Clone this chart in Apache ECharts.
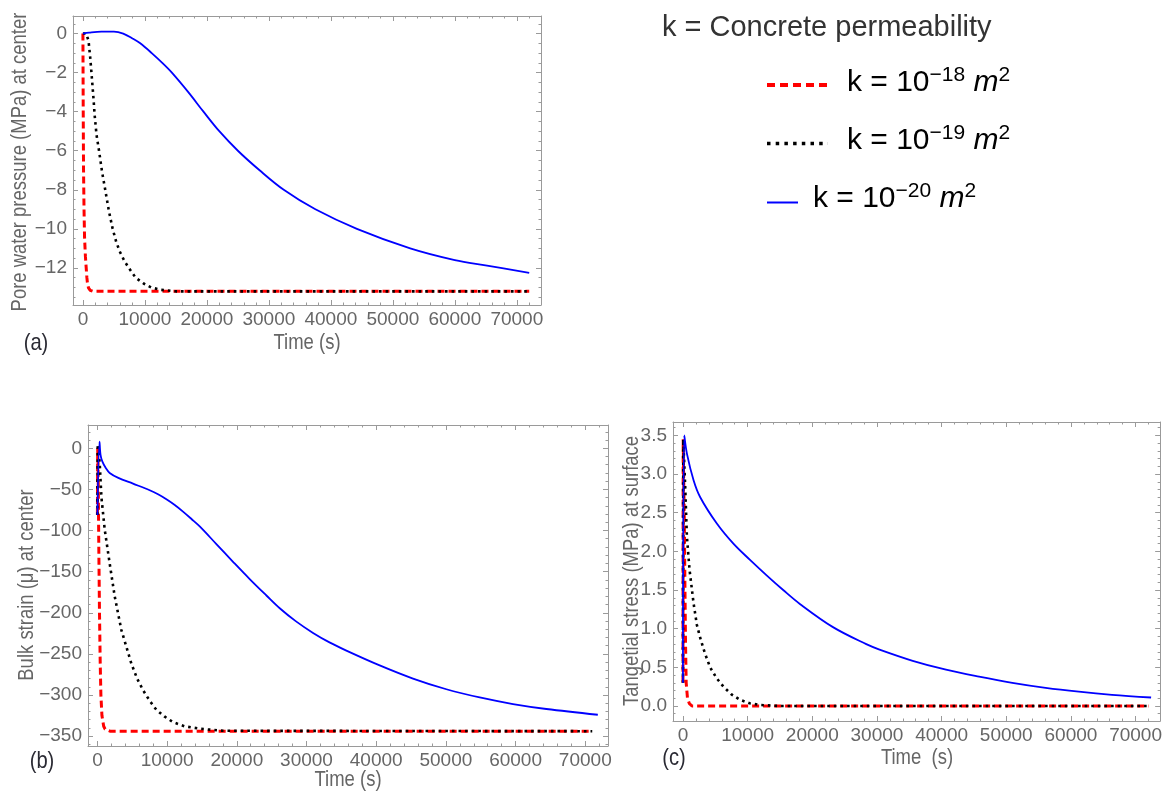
<!DOCTYPE html>
<html><head><meta charset="utf-8">
<script src="https://cdn.jsdelivr.net/npm/echarts@6/dist/echarts.min.js"></script>
<style>html,body{margin:0;padding:0;background:#fff}#c{width:1165px;height:799px}</style>
</head><body><div id="c"></div>
<script>
// ---------- tick labels ----------
const X_MAJOR = [0, 10000, 20000, 30000, 40000, 50000, 60000, 70000];
const A_Y_MAJOR = [0, -2, -4, -6, -8, -10, -12];
const B_Y_MAJOR = [0, -50, -100, -150, -200, -250, -300, -350];
const C_Y_MAJOR = [0, 0.5, 1, 1.5, 2, 2.5, 3, 3.5];

// ---------- (a) pore water pressure at center (MPa) ----------
const aRedT = [0, 50, 100, 180, 260, 400, 530, 640, 740, 900, 1180, 1600, 72000];
const aRedV = [0, -4, -7, -9, -10.4, -11.4, -12, -12.5, -12.8, -13.02, -13.15, -13.2, -13.2];
const aBlackT = [0, 500, 900, 1200, 1450, 1700, 1900, 2200, 2600, 3100, 3600, 4200, 4800, 5400, 6000, 6700, 7400, 8500, 9800, 11000, 12500, 15000, 72000];
const aBlackV = [0, 0, -0.35, -1.3, -2.3, -3.3, -4.2, -5.2, -6, -7.1, -8, -9.1, -10, -10.7, -11.2, -11.65, -12, -12.5, -12.8, -13.0, -13.12, -13.2, -13.2];
const aBlueT = [0, 1000, 3000, 5000, 6500, 8000, 9250, 11100, 12800, 14350, 17000, 19450, 22000, 25000, 28500, 32400, 37500, 44200, 52800, 60000, 65200, 72000];
const aBlueV = [0, 0.05, 0.1, 0.1, 0.0, -0.25, -0.5, -1.0, -1.5, -2.0, -3.0, -4.0, -5.0, -6.0, -7.0, -8.0, -9.0, -10.0, -11.0, -11.6, -11.88, -12.25];

// ---------- (b) bulk strain at center (micro) ----------
const bRedT = [0, 40, 100, 200, 300, 400, 500, 650, 900, 1100, 1300, 1800, 71000];
const bRedV = [-81, 0, -25, -120, -200, -260, -300, -325, -338, -341.5, -343, -344, -344];
const bBlackT = [0, 40, 330, 570, 1050, 1760, 2480, 3440, 4880, 5700, 6540, 7500, 8460, 9600, 10850, 12500, 14700, 18000, 71000];
const bBlackV = [-81, 5, -18, -59, -99, -140, -180, -221, -262, -280, -294, -307, -318, -326, -333, -338, -341, -343.5, -344];
const bBlueT = [0, 300, 450, 700, 1200, 1760, 3000, 5110, 7500, 8700, 9900, 11100, 12280, 13500, 14680, 17070, 19460, 21850, 24250, 26160, 28500, 30940, 33300, 35720, 40500, 45280, 50070, 54850, 59630, 64420, 71800];
const bBlueV = [-81, 8, -8, -16, -24, -30, -36, -43, -51, -56, -62, -69, -77, -86, -95, -116.5, -138, -159, -179, -194.5, -210.5, -224.5, -236, -246, -264, -280, -293, -303, -311, -317, -324];

// ---------- (c) tangential stress at surface (MPa) ----------
const cRedT = [0, 40, 100, 200, 300, 400, 500, 700, 1000, 1400, 2000, 72000];
const cRedV = [0.3, 3.45, 3.0, 2.5, 1.6, 0.8, 0.3, 0.1, 0.03, 0.0, 0, 0];
const cBlackT = [0, 50, 350, 610, 1020, 1640, 2150, 2670, 3400, 4200, 5200, 6260, 7500, 8830, 10300, 11900, 15000, 72000];
const cBlackV = [0.3, 3.45, 2.83, 2.19, 1.76, 1.33, 1.05, 0.88, 0.68, 0.5, 0.36, 0.25, 0.15, 0.08, 0.035, 0.013, 0, 0];
const cBlueT = [0, 200, 620, 1640, 2670, 5240, 7800, 10370, 12940, 15500, 18080, 23200, 28350, 30400, 35530, 40680, 45800, 50940, 56090, 61220, 66350, 72400];
const cBlueV = [0.3, 3.5, 3.26, 2.92, 2.7, 2.36, 2.1, 1.89, 1.69, 1.5, 1.32, 1.02, 0.8, 0.73, 0.585, 0.47, 0.38, 0.3, 0.235, 0.185, 0.145, 0.11];

// ---------- helpers ----------
function range(a, b, s) { const r = []; for (let v = a; v <= b + 1e-9; v += s) r.push(Math.round(v * 1000) / 1000); return r; }
const X_MINOR = range(0, 72000, 2000);
const A_Y_MINOR = range(-13.5, 0.5, 0.5);
const B_Y_MINOR = range(-360, 20, 10);
const C_Y_MINOR = range(-0.1, 3.6, 0.1);
function pairs(t, v) { return t.map((x, i) => [x, v[i]]); }

const FR = "'Liberation Sans',Arial,Helvetica,sans-serif";
const FRAME = '#9a9a9a';
const LABEL = '#666666';
const minusFmt = v => (v < 0 ? '\u2212' + Math.abs(v) : String(v));

const panels = [
  { grid: { left: 73, top: 16, width: 468, height: 289 }, x: [-1600, 73900], y: [-13.9, 0.9],
    yMaj: A_Y_MAJOR, yMin: A_Y_MINOR, fmt: minusFmt,
    series: [[aRedT, aRedV], [aBlackT, aBlackV], [aBlueT, aBlueV]] },
  { grid: { left: 88, top: 425, width: 520, height: 321 }, x: [-1350, 73260], y: [-362, 28.3],
    yMaj: B_Y_MAJOR, yMin: B_Y_MINOR, fmt: minusFmt,
    series: [[bRedT, bRedV], [bBlackT, bBlackV], [bBlueT, bBlueV]] },
  { grid: { left: 673, top: 422, width: 489, height: 299 }, x: [-1540, 73800], y: [-0.194, 3.673],
    yMaj: C_Y_MAJOR, yMin: C_Y_MINOR, fmt: v => v.toFixed(1),
    series: [[cRedT, cRedV], [cBlackT, cBlackV], [cBlueT, cBlueV]] }
];

const grids = [], xAxes = [], yAxes = [], series = [];
const styles = [
  { color: '#ff0000', width: 3, type: [7, 4], z: 2, smooth: false },
  { color: '#000000', width: 2.6, type: [2.6, 4], z: 3, smooth: false },
  { color: '#0000ff', width: 1.8, type: 'solid', z: 4, smooth: 0.35 }
];
panels.forEach((p, gi) => {
  grids.push(Object.assign({ containLabel: false }, p.grid));
  const xb = { type: 'value', gridIndex: gi, min: p.x[0], max: p.x[1], splitLine: { show: false } };
  const yb = { type: 'value', gridIndex: gi, min: p.y[0], max: p.y[1], splitLine: { show: false } };
  const line = { show: true, onZero: false, lineStyle: { color: FRAME, width: 1 } };
  const noLine = { show: false, onZero: false };
  const majT = vals => ({ show: true, inside: true, length: 5, customValues: vals, lineStyle: { color: FRAME, width: 1 } });
  const minT = vals => ({ show: true, inside: true, length: 2.5, customValues: vals, lineStyle: { color: FRAME, width: 1 } });
  xAxes.push(
    Object.assign({}, xb, { position: 'bottom', axisLine: line, axisTick: majT(X_MAJOR),
      axisLabel: { show: true, customValues: X_MAJOR, margin: 5, color: LABEL, fontSize: 19, fontFamily: FR,
        showMinLabel: true, showMaxLabel: true, hideOverlap: false, formatter: v => String(v) } }),
    Object.assign({}, xb, { position: 'bottom', axisLine: noLine, axisTick: minT(X_MINOR), axisLabel: { show: false } }),
    Object.assign({}, xb, { position: 'top', axisLine: line, axisTick: majT(X_MAJOR), axisLabel: { show: false } }),
    Object.assign({}, xb, { position: 'top', axisLine: noLine, axisTick: minT(X_MINOR), axisLabel: { show: false } })
  );
  yAxes.push(
    Object.assign({}, yb, { position: 'left', axisLine: line, axisTick: majT(p.yMaj),
      axisLabel: { show: true, customValues: p.yMaj, margin: 6, color: LABEL, fontSize: 19, fontFamily: FR,
        showMinLabel: true, showMaxLabel: true, formatter: p.fmt } }),
    Object.assign({}, yb, { position: 'left', axisLine: noLine, axisTick: minT(p.yMin), axisLabel: { show: false } }),
    Object.assign({}, yb, { position: 'right', axisLine: line, axisTick: majT(p.yMaj), axisLabel: { show: false } }),
    Object.assign({}, yb, { position: 'right', axisLine: noLine, axisTick: minT(p.yMin), axisLabel: { show: false } })
  );
  p.series.forEach((s, si) => {
    const st = styles[si];
    series.push({
      type: 'line', xAxisIndex: gi * 4, yAxisIndex: gi * 4, data: pairs(s[0], s[1]),
      showSymbol: false, symbol: 'none', smooth: st.smooth, z: st.z,
      lineStyle: { color: st.color, width: st.width, type: st.type, cap: 'butt' }, clip: true
    });
  });
});

// narrow-looking text: regular face compressed horizontally
const txt = (x, y, text, opt) => ({ type: 'text', x: x, y: y, rotation: (opt && opt.rot) || 0,
  scaleX: (opt && opt.sx) || 0.84,
  style: Object.assign({ text: text, fill: LABEL, font: '22px ' + FR, align: 'center', verticalAlign: 'middle' }, (opt && opt.style) || {}) });

const legendRich = {
  a: { fontSize: 30, fontFamily: FR, fill: '#000', lineHeight: 36 },
  s: { fontSize: 21, fontFamily: FR, fill: '#000', lineHeight: 21, verticalAlign: 'top' },
  i: { fontSize: 30, fontFamily: FR, fontStyle: 'italic', fill: '#000', lineHeight: 36 }
};
const legendText = (x, y, exp) => ({ type: 'text', x: x, y: y,
  style: { text: '{a|k = 10}{s|\u2212' + exp + '}{a| }{i|m}{s|2}', rich: legendRich, align: 'left', verticalAlign: 'middle' } });

const graphic = [
  // axis titles
  txt(307, 343, 'Time (s)'),
  txt(20, 162, 'Pore water pressure (MPa) at center', { rot: Math.PI / 2 }),
  txt(348, 780, 'Time (s)'),
  txt(27, 585, 'Bulk strain (\u03bc) at center', { rot: Math.PI / 2 }),
  txt(917, 758, 'Time  (s)'),
  txt(632, 571, 'Tangetial stress (MPa) at surface', { rot: Math.PI / 2 }),
  // panel letters
  txt(36, 343, '(a)', { style: { fill: '#2a2a33', font: '24px ' + FR } }),
  txt(42, 761, '(b)', { style: { fill: '#2a2a33', font: '24px ' + FR } }),
  txt(674, 758, '(c)', { style: { fill: '#2a2a33', font: '24px ' + FR } }),
  // legend
  { type: 'text', x: 662, y: 28, style: { text: 'k = Concrete permeability', font: '29px ' + FR, fill: '#333', align: 'left', verticalAlign: 'middle' } },
  { type: 'line', shape: { x1: 767, y1: 85, x2: 828, y2: 85 }, style: { stroke: '#ff0000', lineWidth: 4, lineDash: [8, 5] } },
  { type: 'line', shape: { x1: 767, y1: 143.5, x2: 828, y2: 143.5 }, style: { stroke: '#000', lineWidth: 3.5, lineDash: [3.5, 5.2] } },
  { type: 'line', shape: { x1: 767, y1: 202.5, x2: 798, y2: 202.5 }, style: { stroke: '#0000ff', lineWidth: 2 } },
  legendText(847, 83, '18'),
  legendText(847, 141, '19'),
  legendText(813, 199, '20')
];

const chart = echarts.init(document.getElementById('c'), null, { width: 1165, height: 799 });
chart.setOption({
  animation: false,
  backgroundColor: '#ffffff',
  grid: grids, xAxis: xAxes, yAxis: yAxes, series: series, graphic: graphic
});
</script></body></html>
